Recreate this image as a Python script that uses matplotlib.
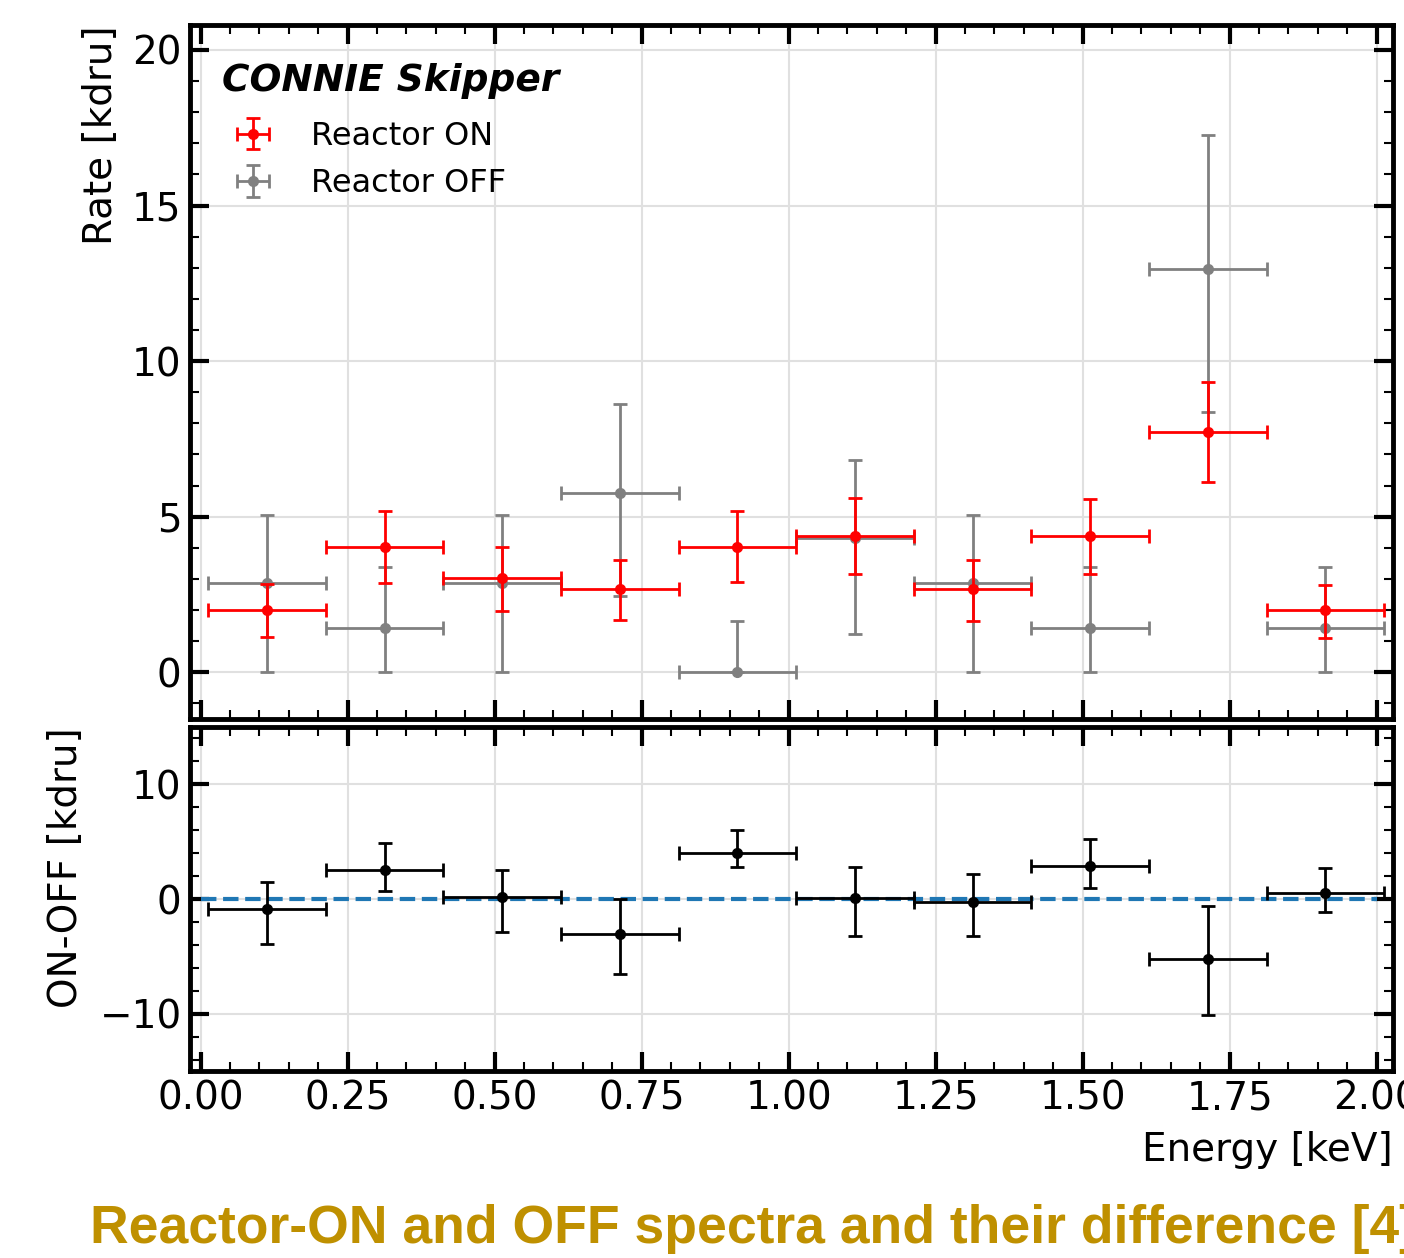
import numpy as np
import matplotlib
matplotlib.use("Agg")
import matplotlib.pyplot as plt
from matplotlib.ticker import MultipleLocator

# bin centres and half widths [keV]
energy = [0.113, 0.313, 0.513, 0.713, 0.913, 1.113, 1.313, 1.513, 1.713, 1.913]
half_width = [0.1, 0.1, 0.1, 0.1, 0.1, 0.1, 0.1, 0.1, 0.1, 0.1]

# reactor ON rate [kdru] with asymmetric errors
rate_on = [2.01, 4.03, 3.02, 2.68, 4.03, 4.37, 2.68, 4.37, 7.72, 2.01]
on_lo = [0.89, 1.15, 1.06, 1.01, 1.14, 1.22, 1.02, 1.22, 1.61, 0.91]
on_hi = [0.82, 1.16, 0.99, 0.93, 1.16, 1.22, 0.93, 1.21, 1.62, 0.81]

# reactor OFF rate [kdru]
rate_off = [2.88, 1.43, 2.88, 5.77, 0.0, 4.33, 2.88, 1.43, 12.97, 1.43]
off_lo = [2.88, 1.43, 2.88, 3.31, 0.0, 3.10, 2.88, 1.43, 4.61, 1.43]
off_hi = [2.19, 1.96, 2.19, 2.85, 1.66, 2.48, 2.19, 1.96, 4.30, 1.96]

# difference ON-OFF [kdru]
diff = [-0.90, 2.57, 0.15, -3.06, 4.03, 0.09, -0.23, 2.89, -5.25, 0.53]
diff_lo = [2.98, 1.84, 3.04, 3.44, 1.20, 3.33, 3.01, 1.89, 4.85, 1.69]
diff_hi = [2.39, 2.33, 2.42, 3.06, 2.01, 2.69, 2.37, 2.34, 4.64, 2.19]

plt.rcParams['font.size'] = 28

fig = plt.figure(figsize=(14.04, 12.58), dpi=100)
ax1 = fig.add_axes([0.1353, 0.4285, 0.8569, 0.5516])
ax2 = fig.add_axes([0.1353, 0.1486, 0.8569, 0.2735], sharex=ax1)

eb = dict(fmt='o', markersize=7, elinewidth=2, capsize=5, capthick=2)
h_on = ax1.errorbar(energy, rate_on, yerr=[on_lo, on_hi], xerr=half_width,
                    color='red', label='Reactor ON', zorder=3, **eb)
h_off = ax1.errorbar(energy, rate_off, yerr=[off_lo, off_hi], xerr=half_width,
                     color='gray', label='Reactor OFF', zorder=2, **eb)

ax2.errorbar(energy, diff, yerr=[diff_lo, diff_hi], xerr=half_width,
             color='black', **eb)
ax2.plot([0, 2], [0, 0], '--', color='#1f77b4', lw=3, zorder=1)

ax1.set_xlim(-0.018, 2.028)
ax1.set_ylim(-1.5, 20.8)
ax2.set_ylim(-15, 15)
ax1.set_yticks([0, 5, 10, 15, 20])
ax2.set_yticks([-10, 0, 10])
ax1.set_xticks([0, 0.25, 0.5, 0.75, 1.0, 1.25, 1.5, 1.75, 2.0])
ax1.xaxis.set_minor_locator(MultipleLocator(0.05))
ax1.yaxis.set_minor_locator(MultipleLocator(1))
ax2.yaxis.set_minor_locator(MultipleLocator(2))

for ax in (ax1, ax2):
    ax.grid(True, color='#e0e0e0', lw=1.5)
    ax.set_axisbelow(True)
    ax.tick_params(which='both', direction='in', top=True, right=True)
    ax.tick_params(which='major', length=14, width=3, labelsize=28, pad=6)
    ax.tick_params(which='minor', length=6.5, width=1.5)
    for s in ax.spines.values():
        s.set_linewidth(3.5)
ax1.tick_params(labelbottom=False)

ax1.set_ylabel('Rate [kdru]', loc='top', labelpad=9)
ax2.set_ylabel('ON-OFF [kdru]', loc='top', labelpad=10)
ax2.set_xlabel('Energy [keV]', loc='right', labelpad=10)

ax1.text(0.0266, 0.9049, 'CONNIE Skipper', transform=ax1.transAxes,
         fontsize=27, weight='bold', style='italic', ha='left', va='baseline')
ax1.legend(handles=[h_on, h_off], loc='center left', bbox_to_anchor=(0.002, 0.8055),
           frameon=False, fontsize=23, labelspacing=0.52)

fig.text(90 / 1404, 15 / 1258, 'Reactor-ON and OFF spectra and their difference [4]',
         family=['Liberation Sans Narrow', 'Liberation Sans'], weight='bold',
         fontsize=38.5, color='#bf9000', ha='left', va='baseline')

fig.savefig('out.png', dpi=100)
